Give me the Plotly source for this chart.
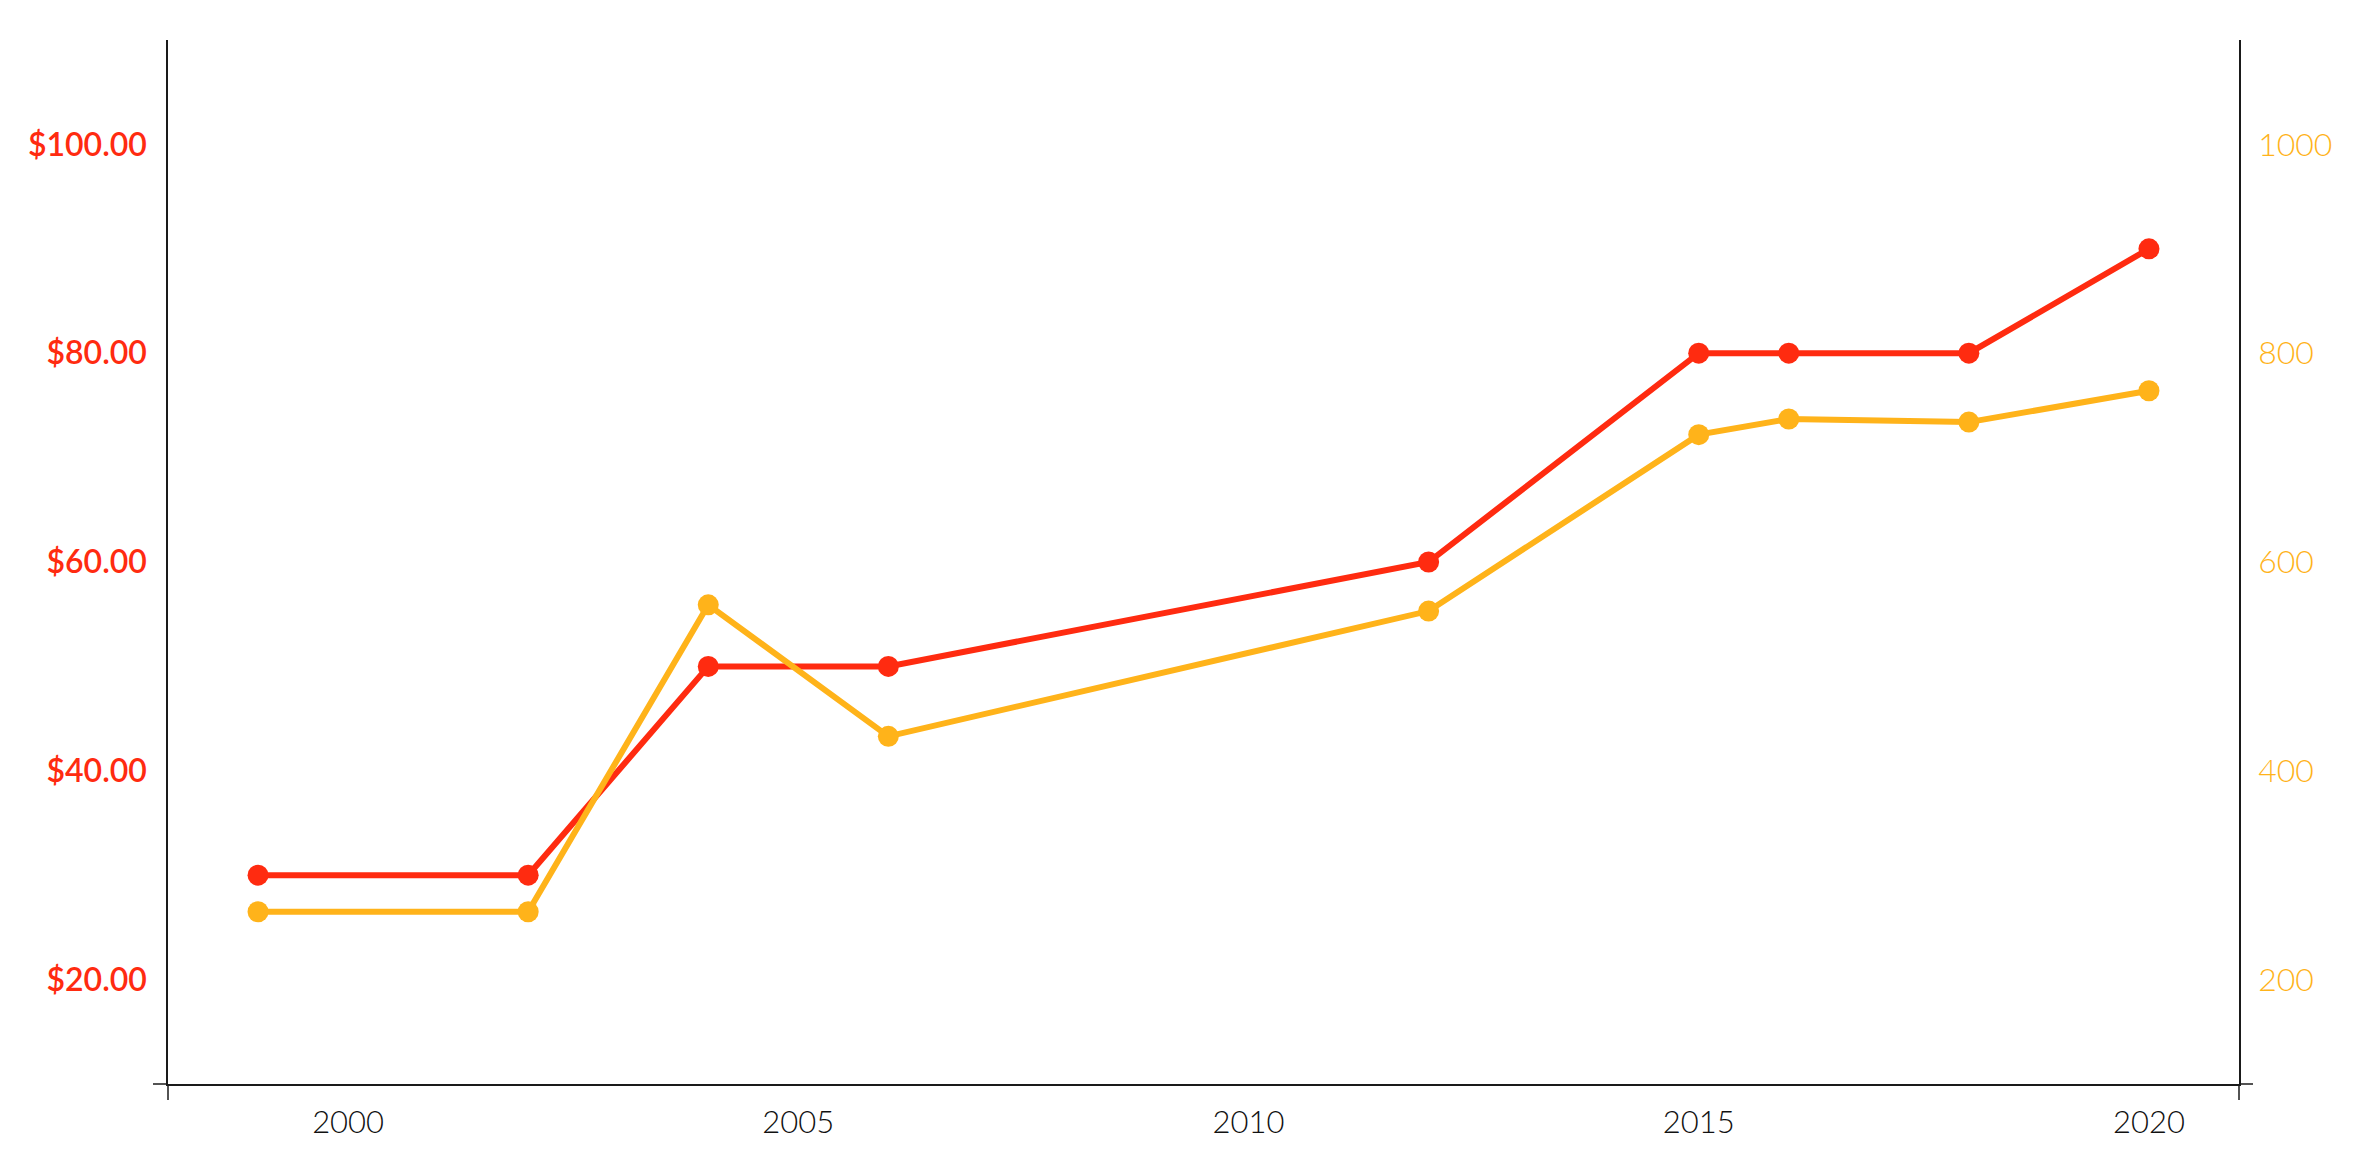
import plotly.graph_objects as go

years = [1999, 2002, 2004, 2006, 2012, 2015, 2016, 2018, 2020]
price = [30, 30, 50, 50, 60, 80, 80, 80, 90]
count = [265, 265, 559, 433, 553, 722, 737, 734, 764]

left_ticks = [20, 40, 60, 80, 100]
right_ticks = [200, 400, 600, 800, 1000]
x_ticks = [2000, 2005, 2010, 2015, 2020]

RED = "#FF2B10"
ORANGE = "#FFB31A"
AXIS = "#1a1a1a"

fig = go.Figure()
fig.add_trace(go.Scatter(
    x=years, y=count, mode="lines+markers", yaxis="y2", name="count",
    line=dict(color=ORANGE, width=6), marker=dict(color=ORANGE, size=21),
))
fig.add_trace(go.Scatter(
    x=years, y=price, mode="lines+markers", name="price",
    line=dict(color=RED, width=6), marker=dict(color=RED, size=21),
))

fig.update_layout(
    width=2376, height=1171,
    margin=dict(l=160, r=145, t=32, b=95),
    paper_bgcolor="white", plot_bgcolor="white",
    showlegend=False,
    xaxis=dict(
        range=[1998, 2021], tickvals=x_ticks, showgrid=False, zeroline=False,
        showline=True, linecolor=AXIS, linewidth=1.5, ticks="",
        tickfont=dict(family="Lato", size=31, color="#111", weight=300),
        ticklabelstandoff=10,
    ),
    yaxis=dict(
        range=[10, 110], tickvals=left_ticks, tickformat="$.2f",
        showgrid=False, zeroline=False, showline=True, linecolor=AXIS,
        linewidth=1.5, ticks="",
        tickfont=dict(family="Lato", size=32, color=RED, weight=600),
        ticklabelstandoff=13,
    ),
    yaxis2=dict(
        range=[100, 1100], tickvals=right_ticks, overlaying="y", side="right",
        showgrid=False, zeroline=False, showline=True, linecolor=AXIS,
        linewidth=1.5, ticks="",
        tickfont=dict(family="Lato", size=32, color=ORANGE, weight=300),
        ticklabelstandoff=11,
    ),
    shapes=[
        dict(type="line", xref="paper", yref="paper", xsizemode="pixel", xanchor=0,
             x0=-15, x1=0, y0=0, y1=0, line=dict(color=AXIS, width=1.5)),
        dict(type="line", xref="paper", yref="paper", xsizemode="pixel", xanchor=1,
             x0=0, x1=14, y0=0, y1=0, line=dict(color=AXIS, width=1.5)),
        dict(type="line", xref="paper", yref="paper", ysizemode="pixel", yanchor=0,
             x0=0, x1=0, y0=-16, y1=0, line=dict(color=AXIS, width=1.5)),
        dict(type="line", xref="paper", yref="paper", ysizemode="pixel", yanchor=0,
             x0=1, x1=1, y0=-16, y1=0, line=dict(color=AXIS, width=1.5)),
    ],
)

fig.write_html("out.html")
